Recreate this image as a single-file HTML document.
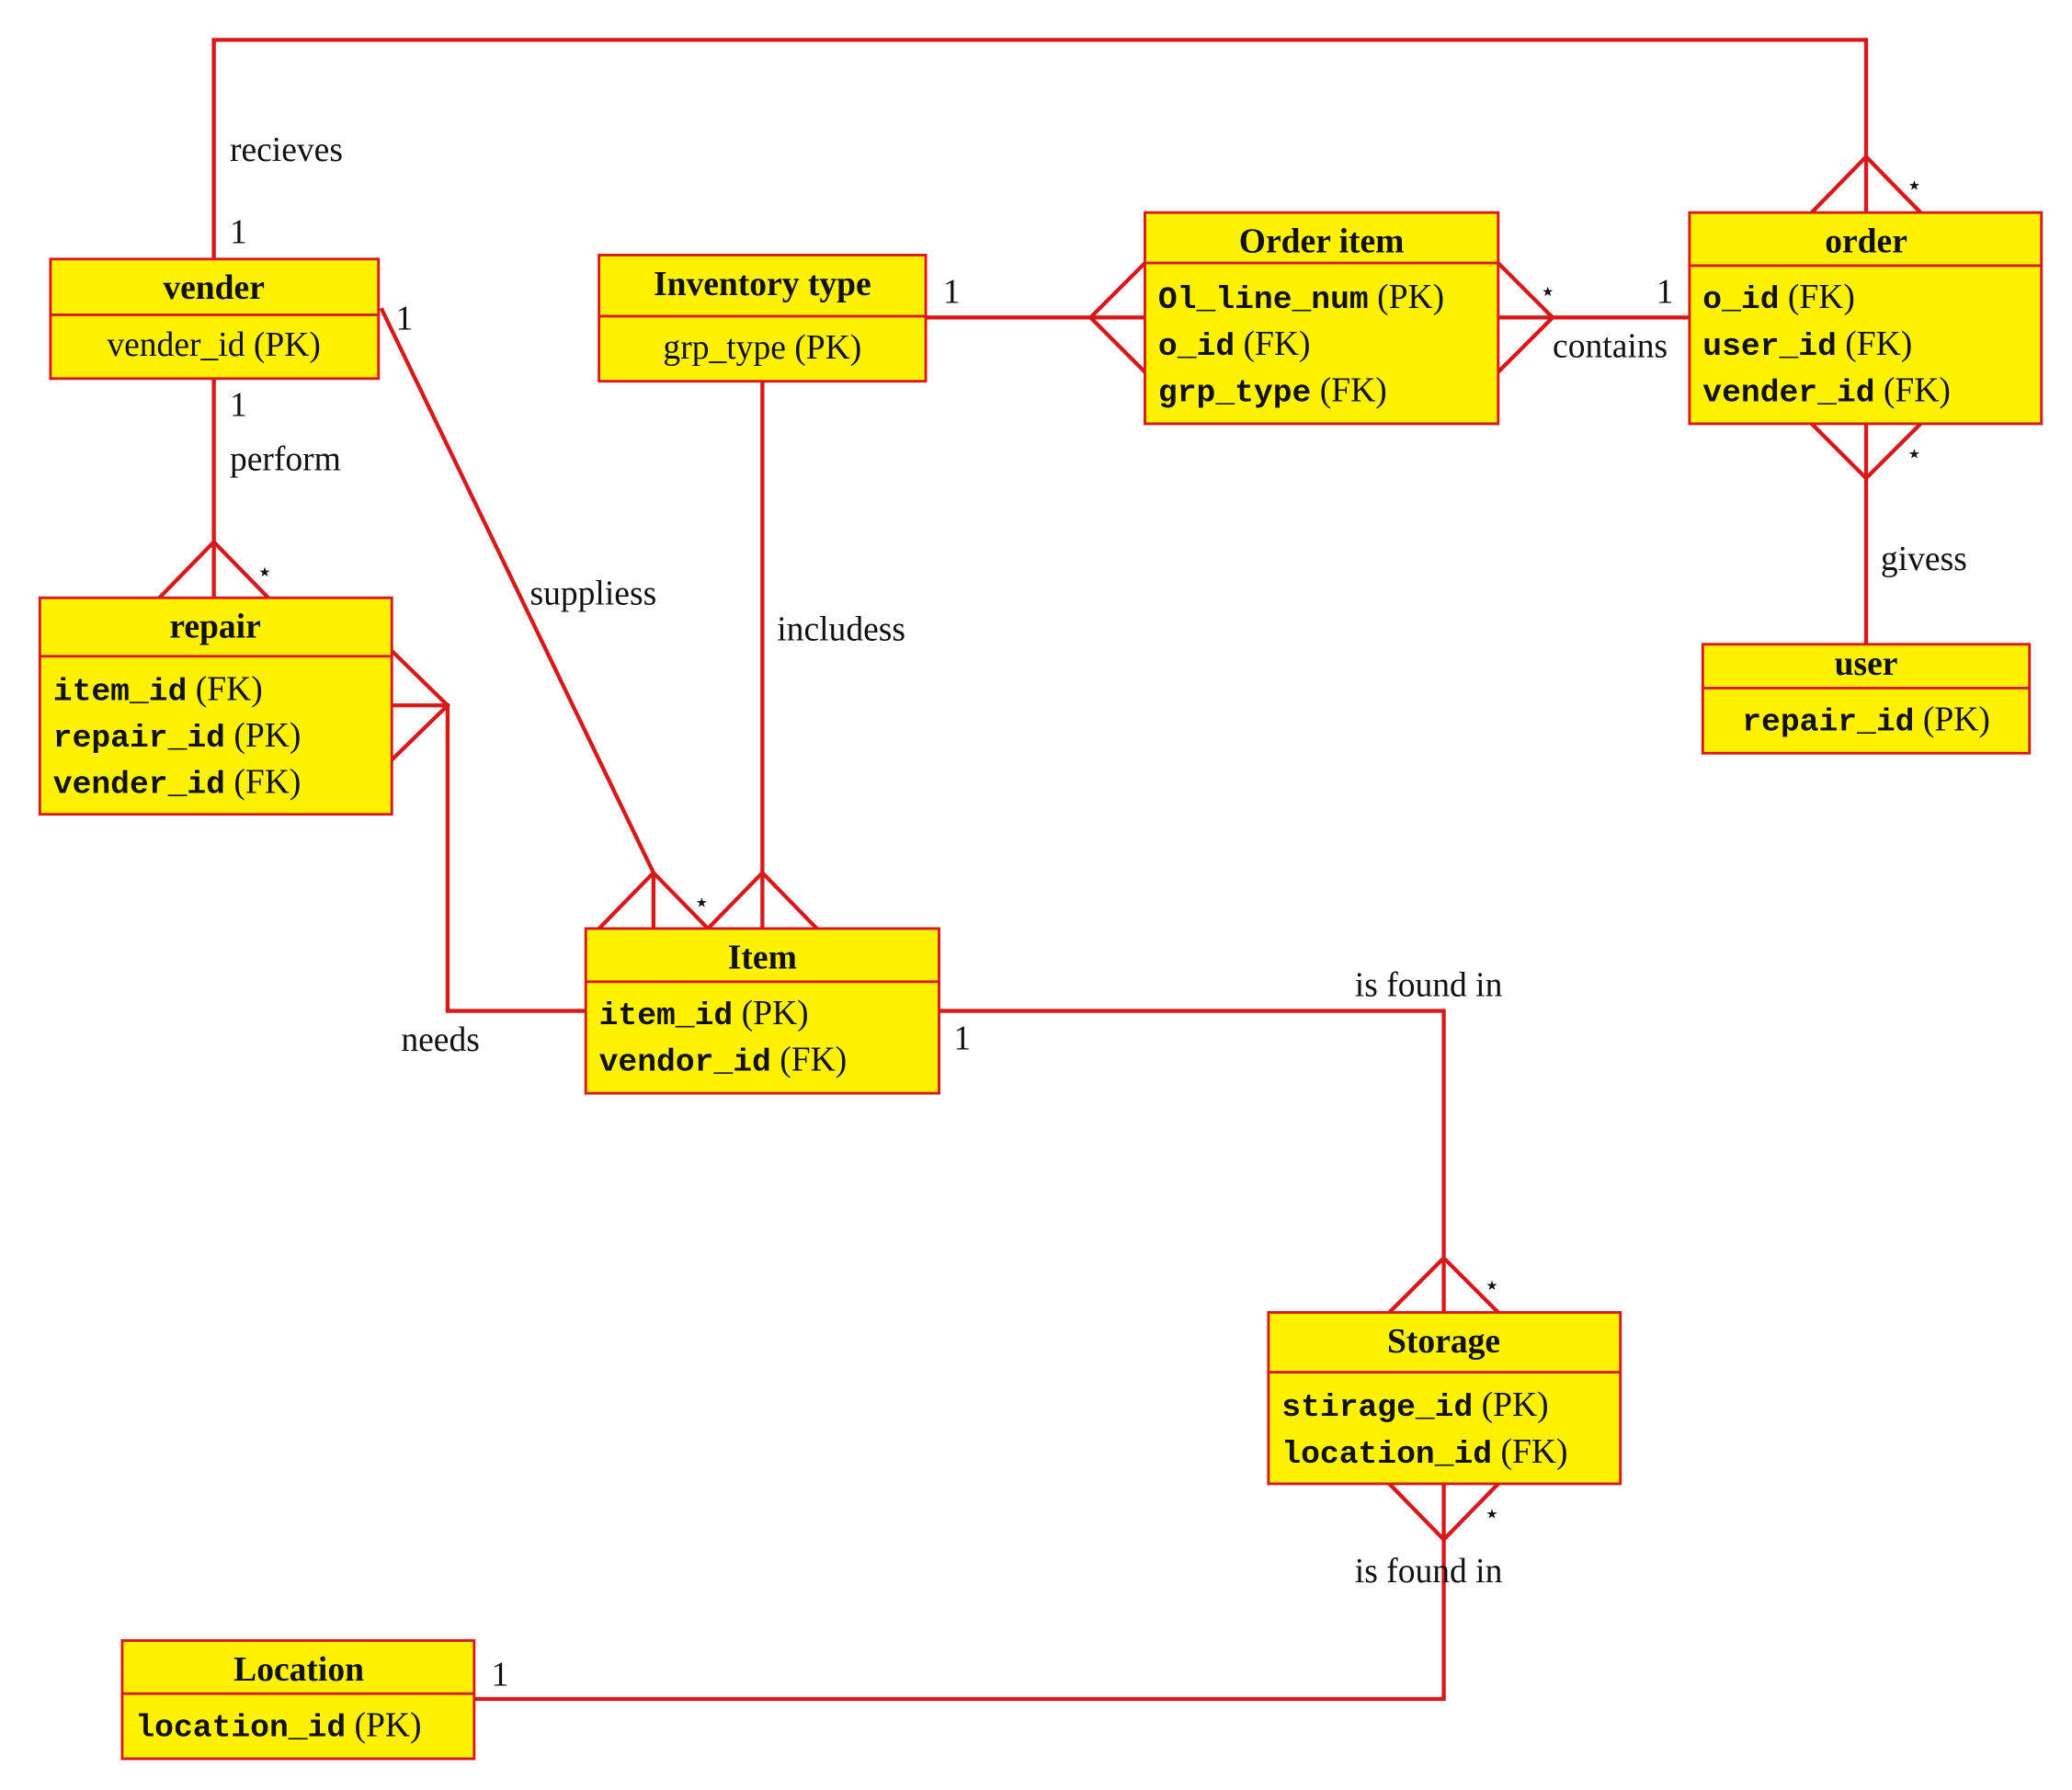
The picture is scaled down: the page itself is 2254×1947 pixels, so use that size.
<!DOCTYPE html>
<html><head><meta charset="utf-8"><style>
html,body{margin:0;padding:0;background:#fff;}
svg{display:block;}
.t{font-family:"Liberation Serif",serif;font-size:26px;fill:#111;}
.b{font-family:"Liberation Serif",serif;font-size:26px;font-weight:bold;fill:#111;}
.m{font-family:"Liberation Mono",monospace;font-size:24px;font-weight:bold;fill:#111;}
.box{fill:#fff200;stroke:#d7191c;stroke-width:2;}
.c{fill:none;stroke:#d7191c;stroke-width:3;}
</style></head><body>
<svg width="2254" height="1947" viewBox="0 0 1560 1347.5" xmlns="http://www.w3.org/2000/svg">
<!-- connectors -->
<g class="c">
<polyline points="161,195 161,30 1405,30 1405,160"/>
<polyline points="1364,160 1405,118 1446,160"/>
<line x1="161" y1="285" x2="161" y2="450"/>
<polyline points="120,450 161,408 202,450"/>
<polyline points="287,232 492,657 492,699"/>
<polyline points="451,699 492,657 533,699"/>
<line x1="574" y1="287" x2="574" y2="699"/>
<polyline points="533,699 574,657 615,699"/>
<line x1="697" y1="239" x2="862" y2="239"/>
<polyline points="862,198 821,239 862,280"/>
<line x1="1128" y1="239" x2="1272" y2="239"/>
<polyline points="1128,198 1169,239 1128,280"/>
<line x1="1405" y1="319" x2="1405" y2="485"/>
<polyline points="1364,319 1405,360 1446,319"/>
<polyline points="295,531 337,531 337,761 441,761"/>
<polyline points="295,490 337,531 295,572"/>
<polyline points="707,761 1087,761 1087,988"/>
<polyline points="1046,988 1087,947 1128,988"/>
<polyline points="1087,1117 1087,1279 357,1279"/>
<polyline points="1046,1117 1087,1159 1128,1117"/>
</g>
<!-- boxes -->
<rect class="box" x="38" y="195" width="247" height="90"/><line class="box" x1="38" y1="237" x2="285" y2="237"/>
<text class="b" x="161" y="225" text-anchor="middle">vender</text>
<text class="t" x="161" y="268" text-anchor="middle">vender_id (PK)</text>

<rect class="box" x="451" y="192" width="246" height="95"/><line class="box" x1="451" y1="238" x2="697" y2="238"/>
<text class="b" x="574" y="222" text-anchor="middle">Inventory type</text>
<text class="t" x="574" y="270" text-anchor="middle">grp_type (PK)</text>

<rect class="box" x="862" y="160" width="266" height="159"/><line class="box" x1="862" y1="198" x2="1128" y2="198"/>
<text class="b" x="995" y="190" text-anchor="middle">Order item</text>
<text x="872" y="232"><tspan class="m">Ol_line_num</tspan><tspan class="t"> (PK)</tspan></text>
<text x="872" y="267"><tspan class="m">o_id</tspan><tspan class="t"> (FK)</tspan></text>
<text x="872" y="302"><tspan class="m">grp_type</tspan><tspan class="t"> (FK)</tspan></text>

<rect class="box" x="1272" y="160" width="265" height="159"/><line class="box" x1="1272" y1="200" x2="1537" y2="200"/>
<text class="b" x="1405" y="190" text-anchor="middle">order</text>
<text x="1282" y="232"><tspan class="m">o_id</tspan><tspan class="t"> (FK)</tspan></text>
<text x="1282" y="267"><tspan class="m">user_id</tspan><tspan class="t"> (FK)</tspan></text>
<text x="1282" y="302"><tspan class="m">vender_id</tspan><tspan class="t"> (FK)</tspan></text>

<rect class="box" x="1282" y="485" width="246" height="82"/><line class="box" x1="1282" y1="518" x2="1528" y2="518"/>
<text class="b" x="1405" y="508" text-anchor="middle">user</text>
<text x="1405" y="550" text-anchor="middle"><tspan class="m">repair_id</tspan><tspan class="t"> (PK)</tspan></text>

<rect class="box" x="30" y="450" width="265" height="163"/><line class="box" x1="30" y1="494" x2="295" y2="494"/>
<text class="b" x="162" y="480" text-anchor="middle">repair</text>
<text x="40" y="527"><tspan class="m">item_id</tspan><tspan class="t"> (FK)</tspan></text>
<text x="40" y="562"><tspan class="m">repair_id</tspan><tspan class="t"> (PK)</tspan></text>
<text x="40" y="597"><tspan class="m">vender_id</tspan><tspan class="t"> (FK)</tspan></text>

<rect class="box" x="441" y="699" width="266" height="124"/><line class="box" x1="441" y1="739" x2="707" y2="739"/>
<text class="b" x="574" y="729" text-anchor="middle">Item</text>
<text x="451" y="771"><tspan class="m">item_id</tspan><tspan class="t"> (PK)</tspan></text>
<text x="451" y="806"><tspan class="m">vendor_id</tspan><tspan class="t"> (FK)</tspan></text>

<rect class="box" x="955" y="988" width="265" height="129"/><line class="box" x1="955" y1="1033" x2="1220" y2="1033"/>
<text class="b" x="1087" y="1018" text-anchor="middle">Storage</text>
<text x="965" y="1066"><tspan class="m">stirage_id</tspan><tspan class="t"> (PK)</tspan></text>
<text x="965" y="1101"><tspan class="m">location_id</tspan><tspan class="t"> (FK)</tspan></text>

<rect class="box" x="92" y="1235" width="265" height="89"/><line class="box" x1="92" y1="1275" x2="357" y2="1275"/>
<text class="b" x="225" y="1265" text-anchor="middle">Location</text>
<text x="102" y="1307"><tspan class="m">location_id</tspan><tspan class="t"> (PK)</tspan></text>

<!-- labels -->
<text class="t" x="173" y="121">recieves</text>
<text class="t" x="173" y="183">1</text>
<text class="t" x="173" y="313">1</text>
<text class="t" x="173" y="354">perform</text>
<text class="t" x="193" y="437" style="font-size:20px">⋆</text>
<text class="t" x="298" y="248">1</text>
<text class="t" x="399" y="455">suppliess</text>
<text class="t" x="522" y="686" style="font-size:20px">⋆</text>
<text class="t" x="585" y="482">includess</text>
<text class="t" x="710" y="228">1</text>
<text class="t" x="1159" y="226" style="font-size:20px">⋆</text>
<text class="t" x="1247" y="228">1</text>
<text class="t" x="1169" y="269">contains</text>
<text class="t" x="1435" y="146" style="font-size:20px">⋆</text>
<text class="t" x="1435" y="348" style="font-size:20px">⋆</text>
<text class="t" x="1416" y="429">givess</text>
<text class="t" x="302" y="791">needs</text>
<text class="t" x="718" y="790">1</text>
<text class="t" x="1020" y="750">is found in</text>
<text class="t" x="1117" y="974" style="font-size:20px">⋆</text>
<text class="t" x="1117" y="1146" style="font-size:20px">⋆</text>
<text class="t" x="1020" y="1191">is found in</text>
<text class="t" x="370" y="1269">1</text>
</svg>
</body></html>
